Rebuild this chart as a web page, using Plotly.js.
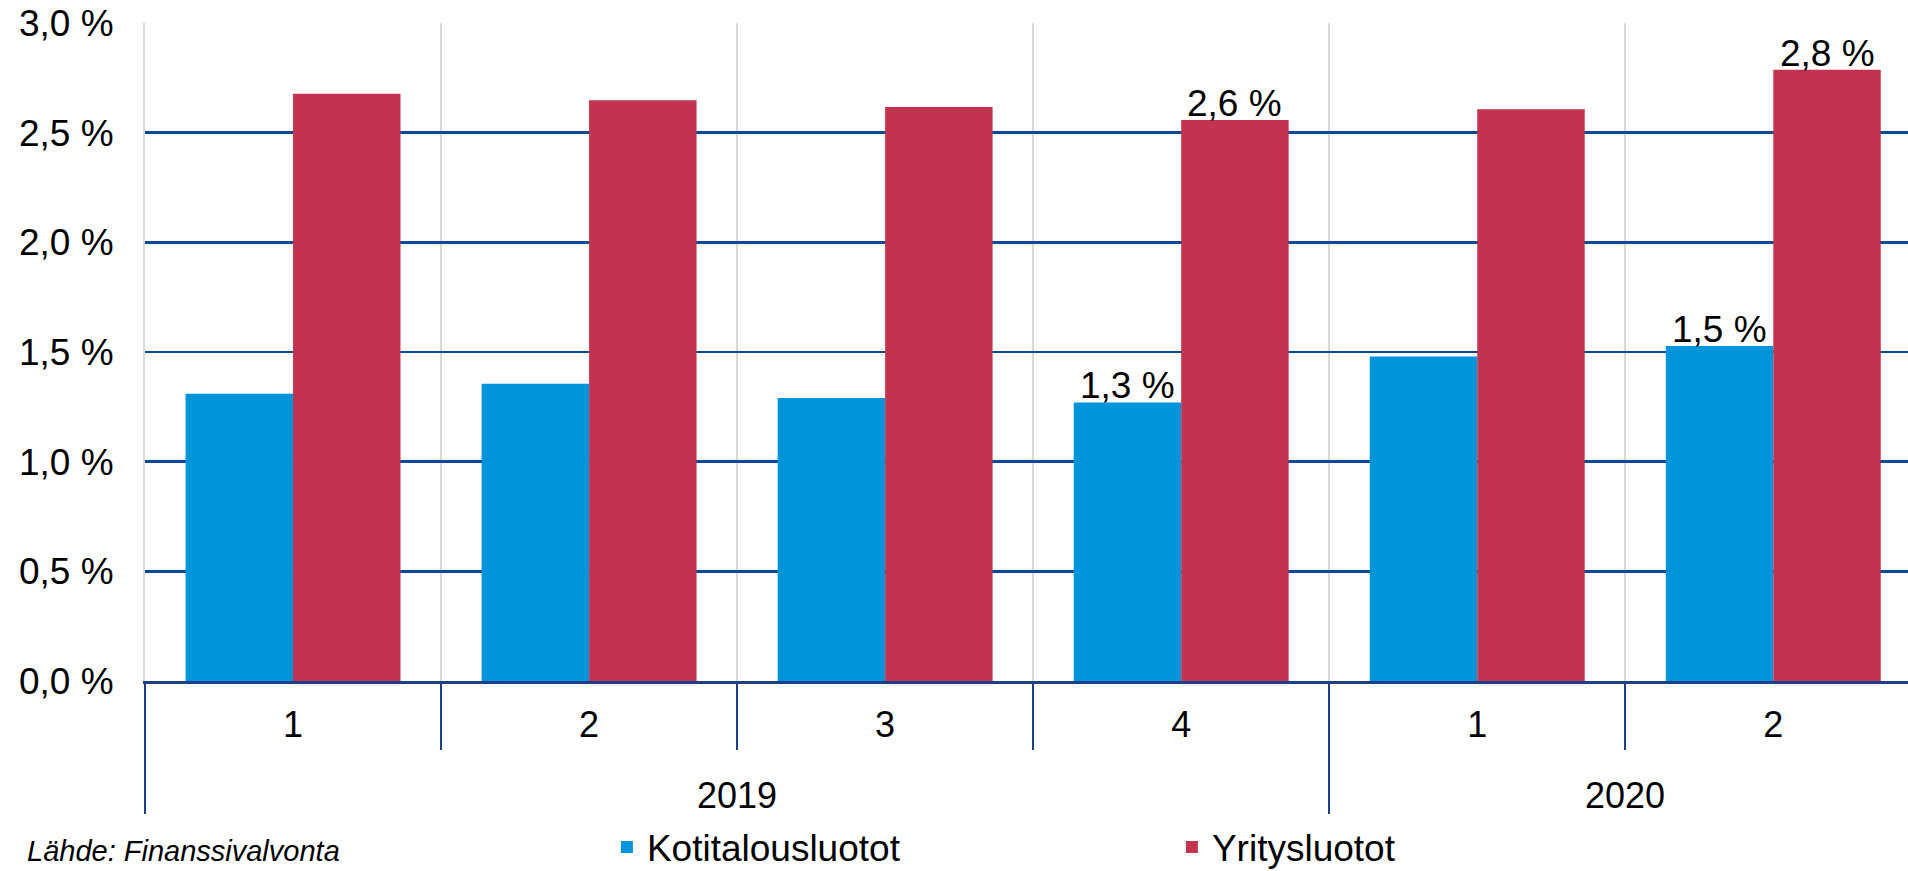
<!DOCTYPE html>
<html>
<head>
<meta charset="utf-8">
<script src="https://cdn.plot.ly/plotly-3.0.1.min.js"></script>
<style>html,body{margin:0;padding:0;background:#fff;}#chart{width:1908px;height:871px;}</style>
</head>
<body>
<div id="chart"></div>
<script>
// ---- data ----
var quarterLabels = ["1", "2", "3", "4", "1", "2"];
var years = ["2019", "2020"];
var yearCounts = [4, 2];
var householdLoans = [1.31, 1.355, 1.29, 1.27, 1.48, 1.527];   // Kotitalousluotot
var corporateLoans = [2.677, 2.648, 2.617, 2.558, 2.607, 2.787]; // Yritysluotot
var labelledIdx = [3, 5];
var seriesNames = ["Kotitalousluotot", "Yritysluotot"];
var sourceText = "Lähde: Finanssivalvonta";

// ---- helpers ----
var idx = quarterLabels.map(function (_, i) { return i; });
function fmt(v) { return v.toFixed(1).replace('.', ',') + ' %'; }
var boundaries = quarterLabels.map(function (_, i) { return i - 0.5; }).concat([quarterLabels.length - 0.5]);
var yearBounds = [], yearCenters = [], acc = 0;
yearCounts.forEach(function (c) {
  yearBounds.push(acc - 0.5);
  yearCenters.push(acc + (c - 1) / 2);
  acc += c;
});
function nulls(a) { return a.map(function () { return null; }); }

var NAVY = '#0b4a96';
var AXIS = '#1c3f8c';
var FONT = 'Liberation Sans, Arial, sans-serif';
var xr = [-0.5, 5.455];
var BARGAP = 0.274;
var barW = (1 - BARGAP) / 2;   // width of one bar in category units

var traces = [
  {
    type: 'bar', x: idx, y: householdLoans, name: seriesNames[0],
    marker: { color: '#0095da' }, hoverinfo: 'skip'
  },
  {
    type: 'bar', x: idx, y: corporateLoans, name: seriesNames[1],
    marker: { color: '#c1334f' }, hoverinfo: 'skip'
  },
  // invisible helpers so the overlay axes (quarter labels, year dividers) are drawn
  { type: 'scatter', mode: 'markers', x: idx, y: nulls(idx), xaxis: 'x2', yaxis: 'y',
    showlegend: false, hoverinfo: 'skip' },
  { type: 'scatter', mode: 'markers', x: yearBounds, y: nulls(yearBounds), xaxis: 'x3', yaxis: 'y',
    showlegend: false, hoverinfo: 'skip' }
];

// value labels above the last bar of each year
var valueLabels = [];
labelledIdx.forEach(function (i) {
  [[householdLoans, -1], [corporateLoans, 1]].forEach(function (s) {
    valueLabels.push({
      text: fmt(s[0][i]), x: i + s[1] * barW / 2, xref: 'x', y: s[0][i], yref: 'y',
      xanchor: 'center', yanchor: 'bottom', yshift: -6, showarrow: false,
      font: { size: 37, family: FONT, color: '#000' }
    });
  });
});

var layout = {
  width: 1908, height: 871,
  margin: { l: 145, r: 0, t: 23, b: 190, pad: 0 },
  paper_bgcolor: '#fff', plot_bgcolor: '#fff',
  font: { family: FONT, size: 37, color: '#000' },
  separators: ', ',
  barmode: 'group', bargap: BARGAP, bargroupgap: 0,
  showlegend: true,
  legend: {
    orientation: 'h', x: 0.262, xanchor: 'left',
    y: 0.027, yref: 'container', yanchor: 'middle',
    font: { size: 37, family: FONT }, entrywidth: 520, entrywidthmode: 'pixels',
    bgcolor: 'rgba(0,0,0,0)'
  },
  xaxis: {
    type: 'linear', range: xr, fixedrange: true,
    tickmode: 'array', tickvals: boundaries, showticklabels: false,
    ticks: 'outside', ticklen: 66, tickwidth: 2, tickcolor: AXIS,
    showgrid: true, gridcolor: '#d9d9d9', gridwidth: 2,
    showline: true, linecolor: AXIS, linewidth: 3, zeroline: false
  },
  xaxis2: {
    type: 'linear', range: xr, overlaying: 'x', anchor: 'y', side: 'bottom', fixedrange: true,
    tickmode: 'array', tickvals: idx, ticktext: quarterLabels,
    ticks: '', ticklabelstandoff: 19, tickfont: { size: 36, family: FONT },
    showgrid: false, showline: false, zeroline: false
  },
  xaxis3: {
    type: 'linear', range: xr, overlaying: 'x', anchor: 'y', side: 'bottom', fixedrange: true,
    tickmode: 'array', tickvals: yearBounds, showticklabels: false,
    ticks: 'outside', ticklen: 132, tickwidth: 2, tickcolor: AXIS,
    showgrid: false, showline: false, zeroline: false
  },
  yaxis: {
    range: [0, 3], dtick: 0.5, tick0: 0, fixedrange: true,
    tickformat: '.1f', ticksuffix: ' %',
    ticks: '', ticklabelstandoff: 22, tickfont: { size: 37, family: FONT },
    showgrid: true, gridcolor: NAVY, gridwidth: 2.5,
    zeroline: false, showline: true, linecolor: '#d9d9d9', linewidth: 2
  },
  annotations: years.map(function (y, i) {
    return {
      text: y, x: yearCenters[i], xref: 'x', y: -0.174, yref: 'paper',
      xanchor: 'center', yanchor: 'middle', showarrow: false,
      font: { size: 36, family: FONT, color: '#000' }
    };
  }).concat(valueLabels).concat([{
    text: '<i>' + sourceText + '</i>', x: 0.014, xref: 'paper', xanchor: 'left',
    xshift: -145, y: -0.2857, yref: 'paper', yanchor: 'bottom', showarrow: false,
    font: { size: 29, family: FONT, color: '#000' }
  }])
};

Plotly.newPlot('chart', traces, layout, { staticPlot: true, displayModeBar: false });
</script>
</body>
</html>
